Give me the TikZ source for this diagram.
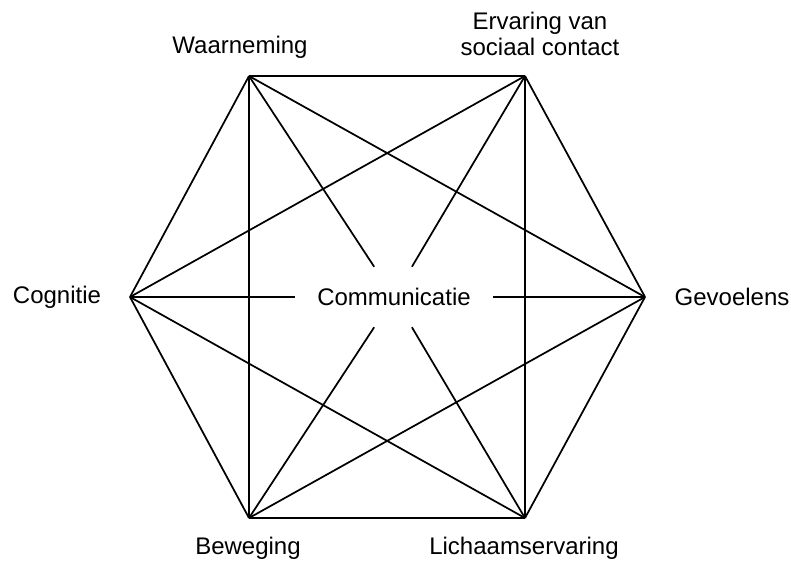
\documentclass[tikz,border=0pt]{standalone}
\usepackage{fontspec}
\setmainfont{Liberation Sans}
\usetikzlibrary{positioning}
\tikzset{
  lbl/.style={font=\fontsize{18}{20}\selectfont,align=center,inner sep=0pt},
  hub/.style={rectangle,minimum width=148pt,minimum height=45pt,
    font=\fontsize{18}{20}\selectfont,inner sep=0pt},
  ln/.style={draw=black,line width=1.3pt},
}
\begin{document}
\begin{tikzpicture}[x=0.75pt,y=-0.75pt]
  \useasboundingbox (0,0) rectangle (791,561);
  \coordinate (wa) at (249,76);
  \coordinate (er) at (525,76);
  \coordinate (ge) at (645,297);
  \coordinate (li) at (525,518);
  \coordinate (be) at (249,518);
  \coordinate (co) at (130,297);
  \node[hub] (cm) at (394,297) {Communicatie};
  \node[lbl] (wal) at (240,47) {Waarneming};
  \node[lbl] (erl) at (540,34) {Ervaring van\\sociaal contact};
  \node[lbl] (gel) at (732,297) {Gevoelens};
  \node[lbl] (lil) at (524,548) {Lichaamservaring};
  \node[lbl] (bel) at (248,548) {Beweging};
  \node[lbl] (col) at (57,297) {Cognitie};
  \foreach \a/\b in {wa/er,er/ge,ge/li,li/be,be/co,co/wa,
                     wa/ge,wa/be,er/li,er/co,ge/be,li/co}
    \draw[ln] (\a)--(\b);
  \foreach \a in {wa,er,ge,li,be,co}
    \draw[ln] (\a)--(cm);
\end{tikzpicture}
\end{document}
